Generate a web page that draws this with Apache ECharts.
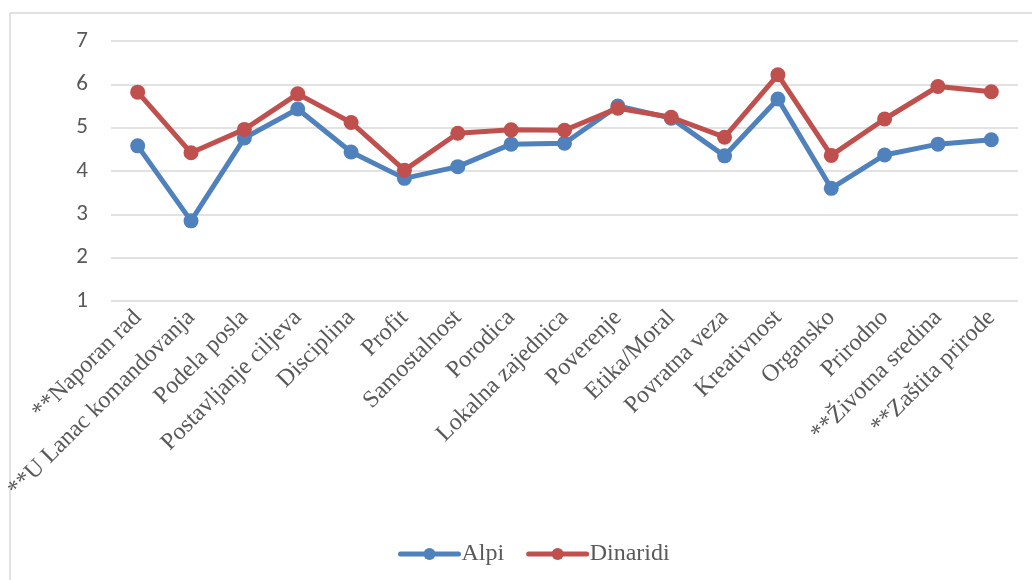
<!DOCTYPE html>
<html>
<head>
<meta charset="utf-8">
<script src="https://cdn.jsdelivr.net/npm/echarts@6/dist/echarts.min.js"></script>
<style>
  html, body { margin: 0; padding: 0; background: #fff; }
  #chart { width: 1032px; height: 580px; }
</style>
</head>
<body>
<div id="chart"></div>
<script>
// Categories (values, attitudes) compared between two regions
const categories = [
  '**Naporan rad', '**U Lanac komandovanja', 'Podela posla', 'Postavljanje ciljeva',
  'Disciplina', 'Profit', 'Samostalnost', 'Porodica', 'Lokalna zajednica',
  'Poverenje', 'Etika/Moral', 'Povratna veza', 'Kreativnost', 'Organsko',
  'Prirodno', '**Životna sredina', '**Zaštita prirode'
];
const alpi = [4.58, 2.85, 4.76, 5.43, 4.44, 3.83, 4.10, 4.62, 4.64, 5.50, 5.22, 4.35, 5.66, 3.60, 4.37, 4.62, 4.72];
const dinaridi = [5.82, 4.42, 4.96, 5.78, 5.12, 4.02, 4.87, 4.95, 4.94, 5.45, 5.24, 4.78, 6.22, 4.36, 5.20, 5.95, 5.83];
const yTicks = [1, 2, 3, 4, 5, 6, 7];

const chart = echarts.init(document.getElementById('chart'), null, { renderer: 'canvas' });

const serif = '"Liberation Serif", "Times New Roman", serif';
const sans = 'Carlito, "Open Sans", "Noto Sans", sans-serif';

function lineSeries(name, data, color) {
  return {
    name: name,
    type: 'line',
    data: data,
    symbol: 'circle',
    symbolSize: 15,
    lineStyle: { width: 5, color: color, cap: 'round' },
    itemStyle: { color: color },
    z: name === 'Alpi' ? 2 : 3
  };
}

chart.setOption({
  animation: false,
  backgroundColor: '#fff',
  graphic: [
    // thin frame along the top and left edge
    { type: 'line', shape: { x1: 10, y1: 13, x2: 1032, y2: 13 }, style: { stroke: '#d9d9d9', lineWidth: 1.5 } },
    { type: 'line', shape: { x1: 10, y1: 13, x2: 10, y2: 580 }, style: { stroke: '#d9d9d9', lineWidth: 1.5 } }
  ],
  legend: {
    data: ['Alpi', 'Dinaridi'],
    top: 537,
    left: 393,
    itemWidth: 58,
    itemHeight: 15,
    itemGap: 22,
    lineStyle: { width: 5, cap: 'round' },
    textStyle: { fontFamily: serif, fontSize: 24, color: '#595959', padding: [0, 0, 0, -2] }
  },
  grid: { left: 111, right: 14, top: 41, bottom: 279, containLabel: false },
  xAxis: {
    type: 'category',
    data: categories,
    boundaryGap: true,
    axisLine: { show: false },
    axisTick: { show: false },
    axisLabel: {
      rotate: 45,
      interval: 0,
      margin: 13,
      fontFamily: serif,
      fontSize: 24,
      color: '#595959'
    }
  },
  yAxis: {
    type: 'value',
    min: yTicks[0],
    max: yTicks[yTicks.length - 1],
    interval: 1,
    axisLine: { show: false },
    axisTick: { show: false },
    axisLabel: { fontFamily: sans, fontSize: 23, color: '#595959', margin: 23 },
    splitLine: { lineStyle: { color: '#d9d9d9', width: 1.5 } }
  },
  series: [
    lineSeries('Alpi', alpi, '#4f81bd'),
    lineSeries('Dinaridi', dinaridi, '#c0504d')
  ]
});
</script>
</body>
</html>
